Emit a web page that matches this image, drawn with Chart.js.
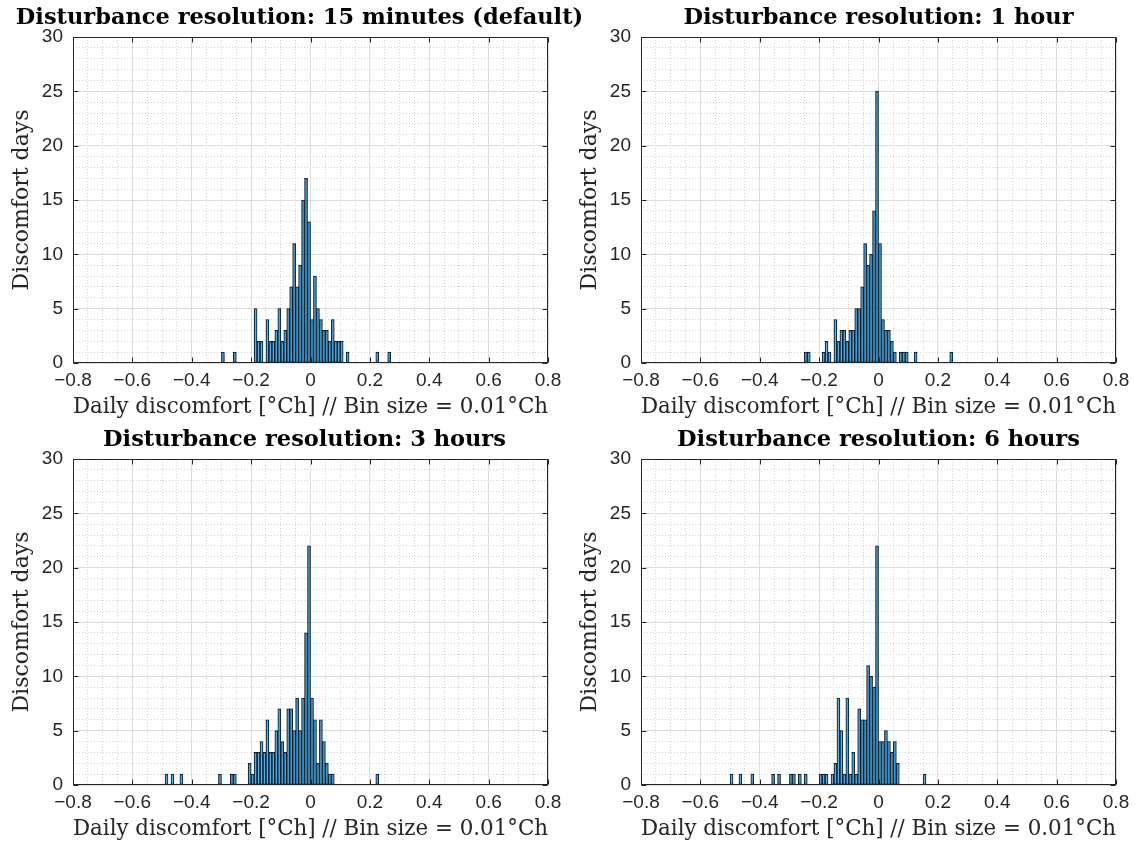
<!DOCTYPE html>
<html>
<head>
<meta charset="utf-8">
<script src="https://cdn.jsdelivr.net/npm/chart.js@4.4.1/dist/chart.umd.min.js"></script>
<style>
  html, body { margin: 0; padding: 0; background: #ffffff; width: 1135px; height: 844px; overflow: hidden; position: relative; }
  canvas { position: absolute; }
</style>
</head>
<body>
<canvas id="c15m" width="621" height="422"></canvas>
<canvas id="c1h" width="621" height="422"></canvas>
<canvas id="c3h" width="621" height="422"></canvas>
<canvas id="c6h" width="621" height="422"></canvas>
<script>
// ---------------- data ----------------
const binWidth = 0.01;

const xTickValues = [-0.8, -0.6, -0.4, -0.2, 0, 0.2, 0.4, 0.6, 0.8];
const yTickValues = [0, 5, 10, 15, 20, 25, 30];

const titles = [
  'Disturbance resolution: 15 minutes (default)',
  'Disturbance resolution: 1 hour',
  'Disturbance resolution: 3 hours',
  'Disturbance resolution: 6 hours'
];
const xAxisTitle = 'Daily discomfort [\u00B0Ch] // Bin size = 0.01\u00B0Ch';
const yAxisTitle = 'Discomfort days';

// bin left edges and counts (only non-empty bins)
const binStarts15min = [-0.30, -0.26, -0.19, -0.18, -0.17, -0.15, -0.14, -0.13, -0.12, -0.11, -0.10, -0.09, -0.08, -0.07, -0.06, -0.05, -0.04, -0.03, -0.02, -0.01, 0.00, 0.01, 0.02, 0.03, 0.04, 0.05, 0.06, 0.07, 0.08, 0.09, 0.10, 0.12, 0.22, 0.26];
const counts15min    = [1, 1, 5, 2, 2, 4, 2, 2, 3, 5, 2, 3, 5, 7, 11, 7, 9, 15, 17, 13, 4, 8, 5, 4, 3, 3, 2, 4, 2, 2, 2, 1, 1, 1];

const binStarts1h = [-0.25, -0.24, -0.19, -0.18, -0.17, -0.15, -0.14, -0.13, -0.12, -0.11, -0.10, -0.09, -0.08, -0.07, -0.06, -0.05, -0.04, -0.03, -0.02, -0.01, 0.00, 0.01, 0.02, 0.03, 0.04, 0.05, 0.07, 0.08, 0.09, 0.12, 0.24];
const counts1h    = [1, 1, 1, 2, 1, 4, 2, 3, 3, 2, 3, 3, 5, 5, 7, 11, 9, 10, 14, 25, 11, 4, 3, 3, 2, 1, 1, 1, 1, 1, 1];

const binStarts3h = [-0.49, -0.47, -0.44, -0.31, -0.27, -0.26, -0.21, -0.20, -0.19, -0.18, -0.17, -0.16, -0.15, -0.14, -0.13, -0.12, -0.11, -0.10, -0.09, -0.08, -0.07, -0.06, -0.05, -0.04, -0.03, -0.02, -0.01, 0.00, 0.01, 0.02, 0.03, 0.04, 0.05, 0.06, 0.07, 0.22];
const counts3h    = [1, 1, 1, 1, 1, 1, 2, 1, 3, 3, 4, 3, 6, 3, 3, 5, 7, 4, 3, 7, 7, 5, 8, 5, 8, 14, 22, 8, 6, 2, 6, 4, 2, 1, 1, 1];

const binStarts6h = [-0.50, -0.47, -0.43, -0.36, -0.34, -0.30, -0.29, -0.27, -0.25, -0.20, -0.19, -0.18, -0.16, -0.15, -0.14, -0.13, -0.12, -0.11, -0.10, -0.09, -0.08, -0.07, -0.06, -0.05, -0.04, -0.03, -0.02, -0.01, 0.00, 0.01, 0.02, 0.03, 0.04, 0.05, 0.06, 0.15];
const counts6h    = [1, 1, 1, 1, 1, 1, 1, 1, 1, 1, 1, 1, 1, 2, 8, 5, 1, 8, 1, 3, 1, 7, 6, 6, 11, 10, 9, 22, 4, 4, 5, 4, 3, 4, 2, 1];

// ---------------- helpers ----------------
const isXMajor = v => xTickValues.some(t => Math.abs(t - v) < 1e-7);
const isYMajor = v => yTickValues.some(t => Math.abs(t - v) < 1e-7);
const fmtX = v => {
  const r = Math.round(v * 10) / 10;
  if (r === 0) return '0';
  return r < 0 ? '\u2212' + Math.abs(r).toFixed(1) : r.toFixed(1);
};

const AXIS_COLOR = '#262626';
const MAJOR_GRID = '#dddddd';
const MINOR_GRID = '#d2d2d2';

const framePlugin = {
  id: 'frame',
  afterDatasetsDraw(chart) {
    const { ctx, chartArea: a, scales: { x, y } } = chart;
    ctx.save();
    ctx.strokeStyle = AXIS_COLOR;
    ctx.lineWidth = 1;
    const l = Math.round(a.left) + 0.5, r = Math.round(a.right) - 0.5;
    const t = Math.round(a.top) + 0.5, b = Math.round(a.bottom) - 0.5;
    ctx.strokeRect(l, t, r - l, b - t);
    ctx.beginPath();
    const tl = 5;
    xTickValues.forEach(v => {
      const px = Math.round(x.getPixelForValue(v)) + 0.5;
      ctx.moveTo(px, b); ctx.lineTo(px, b - tl);
      ctx.moveTo(px, t); ctx.lineTo(px, t + tl);
    });
    yTickValues.forEach(v => {
      const py = Math.round(y.getPixelForValue(v)) + 0.5;
      ctx.moveTo(l, py); ctx.lineTo(l + tl, py);
      ctx.moveTo(r, py); ctx.lineTo(r - tl, py);
    });
    ctx.stroke();
    ctx.restore();
  }
};

// panel placement: plot area left edge (page px), top of panel, title shift
function makeChart(id, title, starts, counts, plotLeft, panelTop, titleShift) {
  const canvas = document.getElementById(id);
  const axisW = 73 + titleShift;
  const spacerW = 73 - titleShift;
  canvas.style.left = (plotLeft - axisW) + 'px';
  canvas.style.top = panelTop + 'px';
  const points = starts.map((s, i) => ({ x: Math.round((s + binWidth / 2) * 1000) / 1000, y: counts[i] }));
  return new Chart(canvas, {
    type: 'bar',
    data: {
      datasets: [{
        data: points,
        backgroundColor: 'rgba(0,114,189,0.6)',
        borderColor: '#111111',
        borderWidth: 0.6,
        borderSkipped: false,
        barPercentage: 1,
        categoryPercentage: 1
      }]
    },
    options: {
      responsive: false,
      animation: false,
      events: [],
      layout: { padding: { left: 0, right: 0, top: 0, bottom: 0 } },
      plugins: {
        legend: { display: false },
        tooltip: { enabled: false },
        title: {
          display: true,
          text: title,
          color: '#000000',
          font: { family: 'DejaVu Serif', size: 22.5, weight: 'bold', lineHeight: 1.2 },
          padding: { top: 5, bottom: 5 }
        }
      },
      scales: {
        x: {
          type: 'linear',
          min: -0.8,
          max: 0.8,
          offset: false,
          afterFit: s => { s.height = 59; },
          ticks: {
            stepSize: 0.05,
            autoSkip: false,
            maxRotation: 0,
            padding: 6,
            color: AXIS_COLOR,
            font: { family: 'Liberation Sans', size: 19 },
            callback: v => isXMajor(v) ? fmtX(v) : ''
          },
          grid: {
            offset: false,
            drawTicks: false,
            lineWidth: 1,
            color: c => (c.tick && isXMajor(c.tick.value)) ? MAJOR_GRID : MINOR_GRID
          },
          border: {
            display: false,
            dash: c => (c.tick && isXMajor(c.tick.value)) ? [] : [1, 2]
          },
          title: {
            display: true,
            text: xAxisTitle,
            color: AXIS_COLOR,
            font: { family: 'DejaVu Serif', size: 22.6, lineHeight: 1.2 },
            padding: { top: 0, bottom: 1 }
          }
        },
        y: {
          type: 'linear',
          min: 0,
          max: 30,
          afterFit: s => { s.width = axisW; },
          ticks: {
            stepSize: 1,
            autoSkip: false,
            padding: 10,
            color: AXIS_COLOR,
            font: { family: 'Liberation Sans', size: 19 },
            callback: v => isYMajor(v) ? String(v) : ''
          },
          grid: {
            drawTicks: false,
            lineWidth: 1,
            color: c => (c.tick && isYMajor(c.tick.value)) ? MAJOR_GRID : MINOR_GRID
          },
          border: {
            display: false,
            dash: c => (c.tick && isYMajor(c.tick.value)) ? [] : [1, 2]
          },
          title: {
            display: true,
            text: yAxisTitle,
            color: AXIS_COLOR,
            font: { family: 'DejaVu Serif', size: 22, lineHeight: 1.2 },
            padding: { top: 9 + titleShift, bottom: 0 }
          }
        },
        ySpacer: {
          type: 'linear',
          position: 'right',
          min: 0,
          max: 30,
          afterFit: s => { s.width = spacerW; },
          ticks: { display: false },
          grid: { display: false, drawTicks: false },
          border: { display: false }
        }
      }
    },
    plugins: [framePlugin]
  });
}

makeChart('c15m', titles[0], binStarts15min, counts15min, 73, 0, 11);
makeChart('c1h', titles[1], binStarts1h, counts1h, 641, 0, 0);
makeChart('c3h', titles[2], binStarts3h, counts3h, 73, 422, 6);
makeChart('c6h', titles[3], binStarts6h, counts6h, 641, 422, 0);
</script>
</body>
</html>
